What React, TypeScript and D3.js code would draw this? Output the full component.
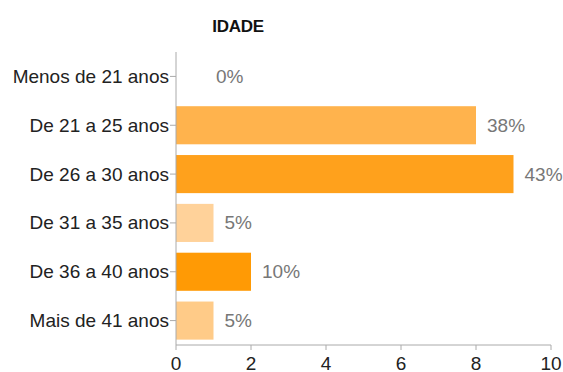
import React from "react";
import * as d3 from "d3";

const categories = [
  "Menos de 21 anos",
  "De 21 a 25 anos",
  "De 26 a 30 anos",
  "De 31 a 35 anos",
  "De 36 a 40 anos",
  "Mais de 41 anos",
];
const counts = [0, 8, 9, 1, 2, 1];
const percentLabels = ["0%", "38%", "43%", "5%", "10%", "5%"];
const barColors = ["#FFB34D", "#FFB34D", "#FFA11C", "#FFD29A", "#FF9A05", "#FFCB88"];
const xTicks = [0, 2, 4, 6, 8, 10];
const title = "IDADE";

const W = 563;
const H = 372;
const left = 176;
const right = 551;
const top = 52;
const bottom = 345;
const font = "'Liberation Sans', Arial, sans-serif";

export default function App() {
  const x = d3.scaleLinear().domain([0, 10]).range([left, right]);
  const y = d3
    .scaleBand<string>()
    .domain(categories)
    .range([top, bottom])
    .paddingInner(0.22)
    .paddingOuter(0.11);

  return (
    <svg
      width={W}
      height={H}
      style={{ position: "absolute", left: 0, top: 0, background: "#fff" }}
      fontFamily={font}
    >
      <text
        x={238}
        y={26}
        textAnchor="middle"
        dominantBaseline="central"
        fontSize={17}
        fontWeight="bold"
        fill="#111"
        letterSpacing={-0.3}
      >
        {title}
      </text>

      {categories.map((c, i) => {
        const yc = (y(c) as number) + y.bandwidth() / 2;
        const v = counts[i];
        const lx = v > 0 ? x(v) + 11 : x(0) + 40;
        return (
          <g key={c}>
            {v > 0 && (
              <rect
                x={x(0)}
                y={y(c)}
                width={x(v) - x(0)}
                height={y.bandwidth()}
                fill={barColors[i]}
              />
            )}
            <line x1={left - 6} x2={left} y1={yc} y2={yc} stroke="#aaa" />
            <text
              x={left - 7}
              y={yc}
              textAnchor="end"
              dominantBaseline="central"
              fontSize={19}
              fill="#222"
            >
              {c}
            </text>
            <text
              x={lx}
              y={yc}
              dominantBaseline="central"
              fontSize={19}
              fill="#777"
            >
              {percentLabels[i]}
            </text>
          </g>
        );
      })}

      <line x1={left} x2={left} y1={top} y2={bottom} stroke="#aaa" />
      <line x1={left} x2={right} y1={bottom} y2={bottom} stroke="#aaa" />
      {xTicks.map((t) => (
        <g key={t}>
          <line x1={x(t)} x2={x(t)} y1={bottom} y2={bottom + 5} stroke="#aaa" />
          <text
            x={x(t)}
            y={bottom + 18}
            textAnchor="middle"
            dominantBaseline="central"
            fontSize={19}
            fill="#222"
          >
            {t}
          </text>
        </g>
      ))}
    </svg>
  );
}
